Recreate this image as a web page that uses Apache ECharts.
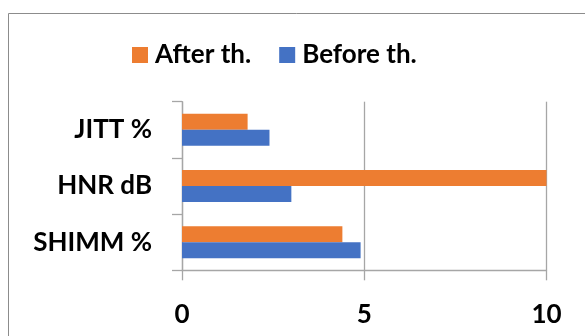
<!DOCTYPE html>
<html>
<head>
<meta charset="utf-8">
<script src="https://cdn.jsdelivr.net/npm/echarts@6/dist/echarts.min.js"></script>
<style>
  html, body { margin: 0; padding: 0; background: #fff; }
  #chart { width: 585px; height: 336px; }
</style>
</head>
<body>
<div id="chart"></div>
<script>
// Voice measures after and before therapy
const categories = ['SHIMM %', 'HNR dB', 'JITT %'];
const afterValues = [4.4, 10.0, 1.8];
const beforeValues = [4.9, 3.0, 2.4];
const seriesNames = ['After th.', 'Before th.'];
const xTicks = [0, 5, 10];

const FONT = 'Lato, "Open Sans", sans-serif';
const AXIS_GRAY = '#a6a6a6';
const LABEL_STYLE = { fontFamily: FONT, fontWeight: 'bold', fontSize: 26, color: '#000' };

const chart = echarts.init(document.getElementById('chart'), null, { renderer: 'canvas' });

chart.setOption({
  animation: false,
  backgroundColor: '#ffffff',
  graphic: [
    {
      type: 'polyline',
      shape: { points: [[8.5, 336], [8.5, 13.5], [585, 13.5]] },
      style: { stroke: '#8c8c8c', lineWidth: 1, fill: null },
      silent: true
    }
  ],
  legend: {
    data: seriesNames,
    left: 127,
    top: 37,
    itemWidth: 16,
    itemHeight: 16,
    itemGap: 28,
    icon: 'rect',
    textStyle: Object.assign({}, LABEL_STYLE, { padding: [0, 0, 0, 2] })
  },
  grid: {
    left: 182,
    right: 38.5,
    top: 101.7,
    bottom: 65.7,
    containLabel: false
  },
  xAxis: {
    type: 'value',
    min: xTicks[0],
    max: xTicks[xTicks.length - 1],
    interval: 5,
    axisLine: { show: true, lineStyle: { color: AXIS_GRAY, width: 1.3 } },
    axisTick: { show: true, length: 10, lineStyle: { color: AXIS_GRAY, width: 1.3 } },
    splitLine: { show: true, lineStyle: { color: AXIS_GRAY, width: 1.3 } },
    axisLabel: Object.assign({ margin: 31 }, LABEL_STYLE)
  },
  yAxis: {
    type: 'category',
    data: categories,
    axisLine: { show: true, lineStyle: { color: AXIS_GRAY, width: 1.3 } },
    axisTick: { show: true, length: 10, lineStyle: { color: AXIS_GRAY, width: 1.3 } },
    axisLabel: Object.assign({ margin: 30 }, LABEL_STYLE)
  },
  series: [
    {
      name: seriesNames[0],
      type: 'bar',
      data: afterValues,
      itemStyle: { color: '#ED7D31' },
      barGap: '0%',
      barCategoryGap: '43%'
    },
    {
      name: seriesNames[1],
      type: 'bar',
      data: beforeValues,
      itemStyle: { color: '#4472C4' },
      barGap: '0%',
      barCategoryGap: '43%'
    }
  ]
});
</script>
</body>
</html>
